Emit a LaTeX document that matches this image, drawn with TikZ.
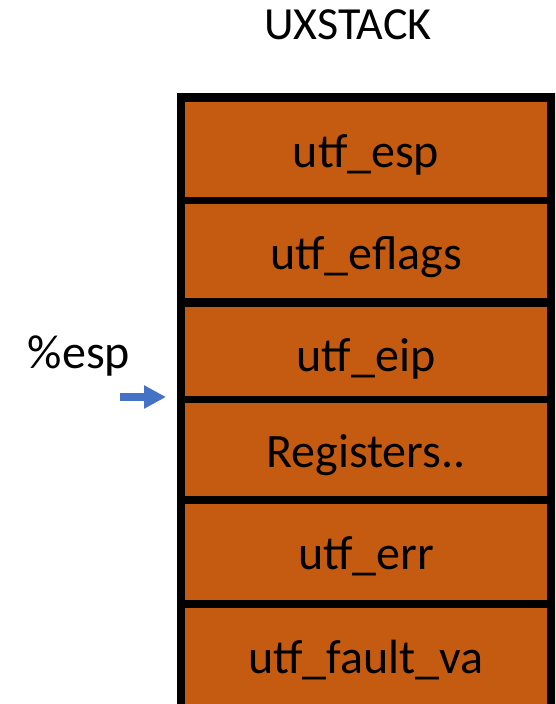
\documentclass[tikz,border=0pt]{standalone}
\usepackage{fontspec}
\setmainfont{Carlito}
\usetikzlibrary{arrows.meta}

\definecolor{stackorange}{HTML}{C55A11}
\definecolor{espblue}{HTML}{4472C4}

\begin{document}
\begin{tikzpicture}[x=1pt,y=-1pt]
    \tikzstyle{every node}=[font=\fontsize{48}{56}\selectfont, inner sep=0pt]
    \tikzstyle{cell}=[rectangle, fill=stackorange, minimum width=362pt, anchor=north]
    \tikzstyle{lbl}=[anchor=base]

    \useasboundingbox (0,0) rectangle (555,704);
    \clip (0,0) rectangle (555,704);

    % frame of the stack
    \fill[black] (177,93) rectangle (570,720);

    \node[cell, minimum height=95pt] (esp) at (366,102) {};
    \node[cell, minimum height=94pt] (eflags) at (366,204) {};
    \node[cell, minimum height=89pt] (eip) at (366,307) {};
    \node[cell, minimum height=93pt] (regs) at (366,403) {};
    \node[cell, minimum height=96pt] (err) at (366,504) {};
    \node[cell, minimum height=110pt] (va) at (366,608) {};

    \node[lbl] at (366,167) {utf\_esp};
    \node[lbl] at (366,269) {utf\_eflags};
    \node[lbl] at (366,371) {utf\_eip};
    \node[lbl] at (366,467) {Registers..};
    \node[lbl] at (366,569) {utf\_err};
    \node[lbl] at (366,673) {utf\_fault\_va};

    \node[lbl, font=\fontsize{46}{54}\selectfont] (title) at (348,39) {UXSTACK};
    \node[lbl] (espreg) at (79,368) {\%esp};

    \coordinate (tail) at (120,397);
    \coordinate (tip) at (166,397);
    \draw[espblue, line width=8pt, -{Triangle[width=22pt,length=22pt]}] (tail) -- (tip);
\end{tikzpicture}
\end{document}
